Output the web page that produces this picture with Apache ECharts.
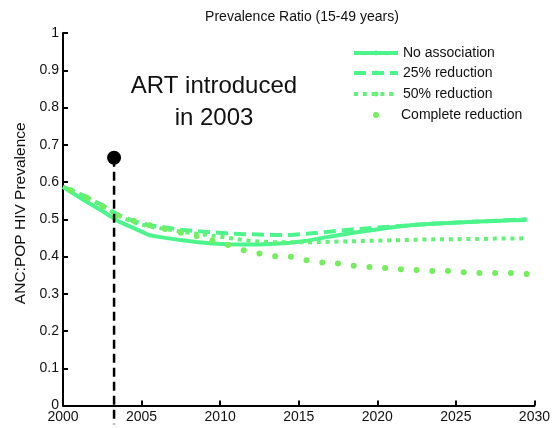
<!DOCTYPE html>
<html>
<head>
<meta charset="utf-8">
<script src="https://cdn.jsdelivr.net/npm/echarts@6/dist/echarts.min.js"></script>
<style>
  html, body { margin: 0; padding: 0; background: #fff; }
  #chart { width: 553px; height: 428px; }
</style>
</head>
<body>
<div id="chart"></div>
<script>
// Model years (start point, then mid-year values)
const years = [2000, 2000.5, 2001.5, 2002.5, 2003.5, 2004.5, 2005.5, 2006.5, 2007.5, 2008.5, 2009.5,
  2010.5, 2011.5, 2012.5, 2013.5, 2014.5, 2015.5, 2016.5, 2017.5, 2018.5, 2019.5,
  2020.5, 2021.5, 2022.5, 2023.5, 2024.5, 2025.5, 2026.5, 2027.5, 2028.5, 2029.5];

// ANC:POP prevalence ratio, one list per scenario
const noAssociation = [0.587, 0.573, 0.547, 0.522, 0.495, 0.476, 0.457, 0.450, 0.444, 0.439, 0.435,
  0.433, 0.432, 0.432, 0.434, 0.437, 0.442, 0.450, 0.457, 0.464, 0.470,
  0.476, 0.481, 0.485, 0.488, 0.490, 0.492, 0.494, 0.495, 0.497, 0.498];
const reduction25 = [0.587, 0.578, 0.560, 0.538, 0.512, 0.495, 0.484, 0.478, 0.472, 0.468, 0.465,
  0.462, 0.460, 0.459, 0.458, 0.458, 0.461, 0.465, 0.469, 0.473, 0.476,
  0.479, 0.482, 0.485, 0.488, 0.490, 0.492, 0.494, 0.496, 0.498, 0.500];
const reduction50 = [0.587, 0.578, 0.559, 0.536, 0.510, 0.492, 0.480, 0.474, 0.467, 0.461, 0.456,
  0.450, 0.444, 0.440, 0.438, 0.438, 0.438, 0.439, 0.440, 0.441, 0.442,
  0.443, 0.444, 0.445, 0.446, 0.446, 0.447, 0.447, 0.448, 0.448, 0.449];
const completeReduction = [null, 0.578, 0.558, 0.535, 0.510, 0.496, 0.484, 0.474, 0.464, 0.455, 0.443,
  0.431, 0.417, 0.408, 0.401, 0.399, 0.390, 0.384, 0.381, 0.375, 0.372,
  0.369, 0.366, 0.364, 0.361, 0.361, 0.358, 0.356, 0.356, 0.356, 0.353];

const seriesNames = ['No association', '25% reduction', '50% reduction', 'Complete reduction'];

// ART start marker
const artYear = 2003.25;
const artMarkerValue = 0.665;
const artLineBottom = -0.05;
const artText = 'ART introduced\nin 2003';

const xTicks = { min: 2000, max: 2030, step: 5 };
const yTicks = { min: 0, max: 1, step: 0.1 };

const pair = (xs, ys) => xs.map((x, i) => [x, ys[i]]);

const FONT = 'Liberation Sans, Arial, sans-serif';
const GREEN = '#4CF58C';
const GREEN_DOT = '#62F277';
const GREEN_PT = '#74EE5E';

const chart = echarts.init(document.getElementById('chart'), null, { renderer: 'canvas' });

const legendText = { fontFamily: FONT, fontSize: 14, color: '#111' };

function lineLegend(name, top) {
  return {
    data: [name],
    left: 352,
    top: top,
    itemWidth: 44,
    itemHeight: 6,
    padding: 0,
    selectedMode: false,
    lineStyle: { width: 4 },
    textStyle: legendText
  };
}

chart.setOption({
  animation: false,
  backgroundColor: '#fff',
  title: {
    text: 'Prevalence Ratio (15-49 years)',
    left: 297,
    textAlign: 'center',
    top: 5,
    textStyle: { fontFamily: FONT, fontSize: 14, fontWeight: 'normal', color: '#111' }
  },
  legend: [
    lineLegend(seriesNames[0], 46),
    lineLegend(seriesNames[1], 66),
    lineLegend(seriesNames[2], 87),
    {
      data: [{ name: seriesNames[3], icon: 'circle' }],
      left: 373,
      top: 108,
      itemWidth: 6,
      itemHeight: 6,
      padding: 0,
      selectedMode: false,
      textStyle: Object.assign({ padding: [0, 0, 0, 17] }, legendText)
    }
  ],
  grid: { left: 63, right: 15.5, top: 33, bottom: 22.5, containLabel: false },
  xAxis: {
    type: 'value',
    min: xTicks.min, max: xTicks.max, interval: xTicks.step,
    splitLine: { show: false },
    axisLine: { onZero: false, lineStyle: { color: '#000', width: 2 } },
    axisTick: { inside: true, length: 5, lineStyle: { color: '#000', width: 2 } },
    axisLabel: { fontFamily: FONT, fontSize: 14, color: '#111', margin: 5, formatter: v => String(v) }
  },
  yAxis: {
    type: 'value',
    min: yTicks.min, max: yTicks.max, interval: yTicks.step,
    name: 'ANC:POP HIV Prevalence',
    nameLocation: 'middle',
    nameGap: 33,
    nameTextStyle: { fontFamily: FONT, fontSize: 15.5, color: '#111', padding: [0, 0, 0, 12] },
    splitLine: { show: false },
    axisLine: { show: true, lineStyle: { color: '#000', width: 2 } },
    axisTick: { inside: true, length: 5, lineStyle: { color: '#000', width: 2 } },
    axisLabel: { fontFamily: FONT, fontSize: 14, color: '#111', margin: 4 }
  },
  series: [
    {
      name: seriesNames[0], type: 'line', data: pair(years, noAssociation),
      showSymbol: false, symbol: 'none', color: GREEN,
      lineStyle: { color: GREEN, width: 4 }, z: 3
    },
    {
      name: seriesNames[1], type: 'line', data: pair(years, reduction25),
      showSymbol: false, symbol: 'none', color: GREEN,
      lineStyle: { color: GREEN, width: 4, type: [12, 6], cap: 'butt' }, z: 3
    },
    {
      name: seriesNames[2], type: 'line', data: pair(years, reduction50),
      showSymbol: false, symbol: 'none', color: GREEN_DOT,
      lineStyle: { color: GREEN_DOT, width: 4, type: [4, 4.8], cap: 'butt' }, z: 3
    },
    {
      name: seriesNames[3], type: 'scatter', data: pair(years, completeReduction),
      symbol: 'circle', symbolSize: 6, color: GREEN_PT,
      itemStyle: { color: GREEN_PT, opacity: 1 }, z: 4
    },
    {
      name: 'ART', type: 'line', clip: false, silent: true,
      data: [[artYear, artMarkerValue], [artYear, artLineBottom]],
      symbol: 'none', color: '#000',
      lineStyle: { color: '#000', width: 2.5, type: [9, 5], cap: 'butt' }, z: 5
    },
    {
      name: 'ART point', type: 'scatter', silent: true,
      data: [[artYear, artMarkerValue]],
      symbol: 'circle', symbolSize: 14,
      itemStyle: { color: '#000', opacity: 1 }, z: 6
    }
  ],
  graphic: [{
    type: 'text',
    x: 214,
    y: 70,
    style: {
      text: artText,
      fontFamily: FONT, fontSize: 24, fill: '#111',
      align: 'center', verticalAlign: 'top', lineHeight: 32
    }
  }]
});
</script>
</body>
</html>
